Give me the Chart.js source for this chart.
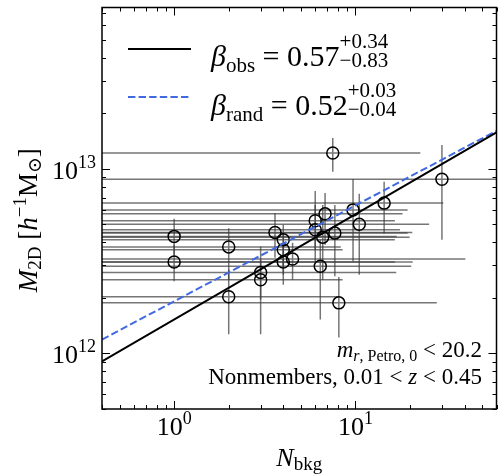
<!DOCTYPE html>
<html>
<head>
<meta charset="utf-8">
<script src="https://cdn.jsdelivr.net/npm/chart.js@4.4.1/dist/chart.umd.min.js"></script>
<style>
  html, body { margin: 0; padding: 0; background: #fff; }
  #c { display: block; }
</style>
</head>
<body>
<canvas id="c" width="504" height="475"></canvas>
<script>
// --- Data: background counts vs. projected mass (units of 1e12 h^-1 Msun) ---
const nBkg  = [1.0, 1.0, 2.0, 2.0, 3.0, 3.0, 3.6, 4.0, 4.0, 4.0, 4.5, 6.0, 6.0, 6.8, 6.6, 6.4, 7.5, 7.7, 8.1, 9.7, 10.5, 14.4, 30.0];
const nHi   = [16.9, 20.7, 8.3, 8.05, 16.8, 8.5, 20.6, 16.5, 8.5, 16.5, 40.4, 16.5, 17.6, 18.2, 19.9, 20.3, 22.8, 19.4, 28.1, 19.4, 25.5, 30.5, 75];
const nLo   = nBkg.map(() => 0.05);
const m2d   = [4.31, 3.13, 3.78, 2.03, 2.75, 2.51, 4.53, 4.13, 3.65, 3.13, 3.25, 5.24, 4.68, 5.71, 4.27, 2.97, 12.2, 4.49, 1.88, 6.00, 5.02, 6.53, 8.80];
const m2dHi = [5.37, 3.88, 4.77, 2.85, 3.80, 3.22, 5.78, 4.98, 4.51, 3.88, 3.98, 7.60, 6.38, 7.41, 6.38, 4.13, 14.7, 6.38, 2.60, 8.83, 7.33, 8.53, 13.5];
const m2dLo = [3.43, 2.46, 2.51, 1.27, 1.96, 1.27, 3.30, 3.03, 2.67, 2.36, 2.51, 3.65, 3.14, 3.88, 2.51, 1.53, 9.67, 2.62, 1.22, 3.16, 2.67, 4.46, 4.13];

// power-law fits, evaluated at the axis limits
const fitN    = [0.4, 60];
const fitObs  = [0.906, 15.8];
const fitRand = [1.19, 16.1];

// tick positions
const xMajor = [1, 10];
const xMinor = [0.4, 0.5, 0.6, 0.7, 0.8, 0.9, 2, 3, 4, 5, 6, 7, 8, 9, 20, 30, 40, 50, 60];
const yMajor = [1e12, 1e13];
const yMinor = [5e11, 6e11, 7e11, 8e11, 9e11, 2e12, 3e12, 4e12, 5e12, 6e12, 7e12, 8e12, 9e12, 2e13, 3e13, 4e13, 5e13, 6e13, 7e13];

const E12 = 1e12;
const SERIF = "'Liberation Serif', 'DejaVu Serif', serif";

function fontOf(r) {
    return (r.it ? 'italic ' : '') + r.s + 'px ' + SERIF;
}

// draws a run of text pieces; a piece with 'stack' shares x with the previous one
function drawRuns(ctx, runs, x, y, align) {
    let w = 0, last = 0;
    const pos = [];
    runs.forEach(r => {
        ctx.font = fontOf(r);
        const rw = ctx.measureText(r.t).width;
        if (r.stack) {
            pos.push(w - last);
            const extra = Math.max(0, rw - last);
            w += extra;
            last = Math.max(last, rw);
        } else {
            pos.push(w);
            w += rw;
            last = rw;
        }
    });
    let x0 = x;
    if (align === 'right') x0 = x - w;
    else if (align === 'center') x0 = x - w / 2;
    ctx.textAlign = 'left';
    ctx.textBaseline = 'alphabetic';
    runs.forEach((r, i) => {
        ctx.font = fontOf(r);
        ctx.fillStyle = r.c || '#000';
        ctx.fillText(r.t, x0 + pos[i], y + (r.dy || 0));
    });
    return w;
}

const errorBars = {
    id: 'errorBars',
    beforeDatasetsDraw(chart) {
        const { ctx, chartArea: a, scales: { x, y } } = chart;
        ctx.save();
        ctx.beginPath();
        ctx.rect(a.left, a.top, a.right - a.left, a.bottom - a.top);
        ctx.clip();
        ctx.strokeStyle = 'rgba(60,60,60,0.7)';
        ctx.lineWidth = 1.5;
        nBkg.forEach((n, i) => {
            const px = x.getPixelForValue(n), py = y.getPixelForValue(m2d[i] * E12);
            ctx.beginPath();
            ctx.moveTo(x.getPixelForValue(nLo[i]), py);
            ctx.lineTo(x.getPixelForValue(nHi[i]), py);
            ctx.moveTo(px, y.getPixelForValue(m2dLo[i] * E12));
            ctx.lineTo(px, y.getPixelForValue(m2dHi[i] * E12));
            ctx.stroke();
        });
        ctx.restore();
    }
};

const frame = {
    id: 'frame',
    afterDraw(chart) {
        const { ctx, chartArea: a, scales: { x, y } } = chart;
        ctx.save();
        ctx.strokeStyle = '#000';
        // ticks pointing inward on all four sides
        ctx.lineWidth = 1;
        const tick = (vals, len) => {
            vals.forEach(v => {
                const px = Math.round(x.getPixelForValue(v)) + 0.5;
                ctx.beginPath();
                ctx.moveTo(px, a.bottom); ctx.lineTo(px, a.bottom - len);
                ctx.moveTo(px, a.top); ctx.lineTo(px, a.top + len);
                ctx.stroke();
            });
        };
        const ticky = (vals, len) => {
            vals.forEach(v => {
                const py = Math.round(y.getPixelForValue(v)) + 0.5;
                ctx.beginPath();
                ctx.moveTo(a.left, py); ctx.lineTo(a.left + len, py);
                ctx.moveTo(a.right, py); ctx.lineTo(a.right - len, py);
                ctx.stroke();
            });
        };
        tick(xMinor, 4); tick(xMajor, 8);
        ticky(yMinor, 4); ticky(yMajor, 8);
        ctx.lineWidth = 1.5;
        ctx.strokeRect(a.left, a.top, a.right - a.left, a.bottom - a.top);

        // tick labels
        xMajor.forEach(v => {
            const e = Math.round(Math.log10(v));
            drawRuns(ctx, [{ t: '10', s: 26 }, { t: String(e), s: 18, dy: -11 }],
                x.getPixelForValue(v), 435, 'center');
        });
        yMajor.forEach(v => {
            const e = Math.round(Math.log10(v));
            drawRuns(ctx, [{ t: '10', s: 26 }, { t: String(e), s: 18, dy: -11 }],
                96, y.getPixelForValue(v) + 10, 'right');
        });

        // axis titles
        drawRuns(ctx, [{ t: 'N', s: 26, it: true }, { t: 'bkg', s: 19, dy: 4 }], (a.left + a.right) / 2, 466, 'center');
        ctx.save();
        ctx.translate(37, (a.top + a.bottom) / 2 + 12);
        ctx.rotate(-Math.PI / 2);
        drawRuns(ctx, [
            { t: 'M', s: 27, it: true }, { t: '2D', s: 19, dy: 4 },
            { t: ' [', s: 27 }, { t: 'h', s: 27, it: true }, { t: '\u2212' + '1', s: 19, dy: -11 },
            { t: 'M', s: 27 }, { t: '\u2299', s: 19, dy: 4 }, { t: ']', s: 27 }
        ], 0, 0, 'center');
        ctx.restore();

        // legend
        ctx.lineWidth = 2;
        ctx.strokeStyle = '#000';
        ctx.beginPath(); ctx.moveTo(128, 49); ctx.lineTo(191, 49); ctx.stroke();
        ctx.strokeStyle = '#4169e1';
        ctx.setLineDash([7.4, 3.2]);
        ctx.beginPath(); ctx.moveTo(128, 97); ctx.lineTo(191, 97); ctx.stroke();
        ctx.setLineDash([]);
        drawRuns(ctx, [
            { t: '\u03b2', s: 30, it: true }, { t: 'obs', s: 21, dy: 6 }, { t: ' = ', s: 30 },
            { t: '0.57', s: 30 }, { t: '+0.34', s: 21, dy: -18 }, { t: '\u22120.83', s: 21, dy: 1, stack: true }
        ], 211, 66, 'left');
        drawRuns(ctx, [
            { t: '\u03b2', s: 30, it: true }, { t: 'rand', s: 21, dy: 6 }, { t: ' = ', s: 30 },
            { t: '0.52', s: 30 }, { t: '+0.03', s: 21, dy: -18 }, { t: '\u22120.04', s: 21, dy: 1, stack: true }
        ], 211, 115, 'left');

        // sample description
        drawRuns(ctx, [
            { t: 'm', s: 23, it: true }, { t: 'r', s: 16, it: true, dy: 4 }, { t: ', Petro, 0', s: 16, dy: 4 },
            { t: ' < 20.2', s: 23 }
        ], 482, 357, 'right');
        drawRuns(ctx, [
            { t: 'Nonmembers, 0.01 < ', s: 23 }, { t: 'z', s: 23, it: true }, { t: ' < 0.45', s: 23 }
        ], 482, 384, 'right');
        ctx.restore();
    }
};

const ctx = document.getElementById('c').getContext('2d');
new Chart(ctx, {
    type: 'scatter',
    data: {
        datasets: [
            {
                type: 'line', order: 0,
                data: fitN.map((n, i) => ({ x: n, y: fitObs[i] * E12 })),
                borderColor: '#000', borderWidth: 2, pointRadius: 0, fill: false
            },
            {
                type: 'line', order: 0,
                data: fitN.map((n, i) => ({ x: n, y: fitRand[i] * E12 })),
                borderColor: '#4169e1', borderWidth: 2, borderDash: [7.4, 3.2], pointRadius: 0, fill: false
            },
            {
                type: 'scatter', order: 1,
                data: nBkg.map((n, i) => ({ x: n, y: m2d[i] * E12 })),
                pointRadius: 6, pointStyle: 'circle', borderWidth: 1.5,
                borderColor: '#000', backgroundColor: 'rgba(0,0,0,0)'
            }
        ]
    },
    options: {
        responsive: false,
        animation: false,
        events: [],
        layout: { padding: { left: 102, top: 7, right: 1, bottom: 66 } },
        scales: {
            x: { type: 'logarithmic', min: 0.4, max: 60, display: false },
            y: { type: 'logarithmic', min: 5e11, max: 7.5e13, display: false }
        },
        plugins: { legend: { display: false }, tooltip: { enabled: false } }
    },
    plugins: [errorBars, frame]
});
</script>
</body>
</html>
